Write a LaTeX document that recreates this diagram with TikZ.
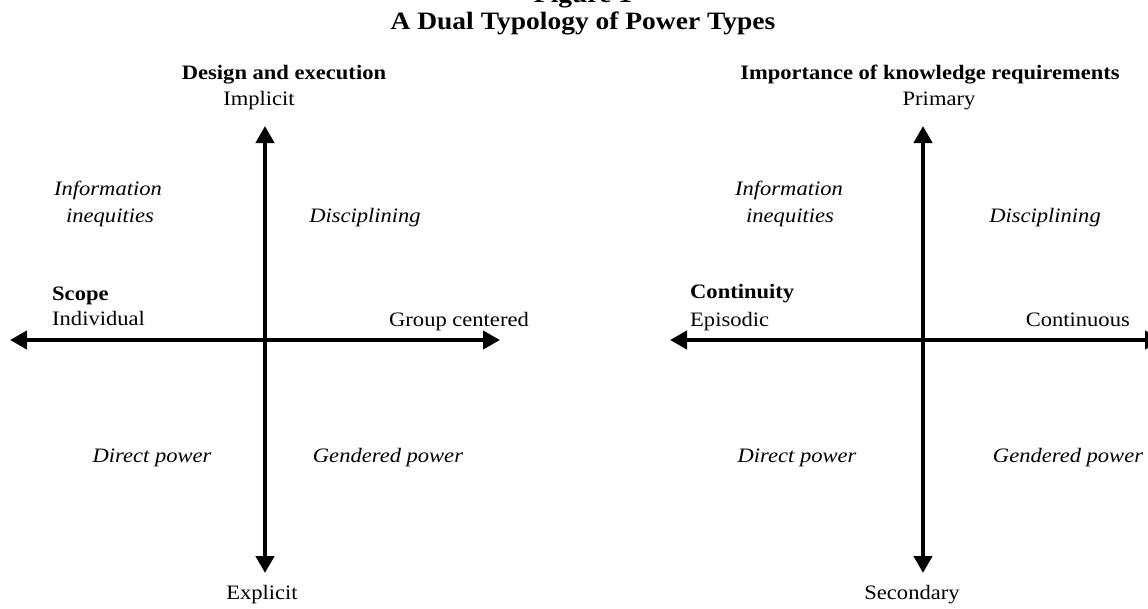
\documentclass[tikz,border=0pt]{standalone}
\usepackage{fontspec}
\setmainfont{Liberation Serif}[FakeStretch=1.1]
\usetikzlibrary{arrows.meta}
\begin{document}
\begin{tikzpicture}[x=1pt,y=-1pt,
  tip/.tip={Triangle[length=17pt,width=18pt]},
  axis/.style={line width=4.5pt,tip-tip},
  lab/.style={inner sep=0pt,anchor=base,font=\fontsize{20.5}{24}\selectfont},
  bold/.style={lab,font=\fontsize{20.5}{24}\selectfont\bfseries},
  quad/.style={lab,font=\fontsize{20.5}{24}\selectfont\itshape},
  ttl/.style={inner sep=0pt,anchor=base,font=\fontsize{25}{28}\selectfont\bfseries}]
\useasboundingbox (0,0) rectangle (1148,608);
\node[ttl] (fig) at (583,2) {Figure 1};
\node[ttl] (title) at (583,29) {A Dual Typology of Power Types};
% left diagram
\coordinate (lt) at (265,126);
\coordinate (lb) at (265,573);
\coordinate (ll) at (10,340);
\coordinate (lr) at (500,340);
\draw[axis] (lb) -- (lt);
\draw[axis] (ll) -- (lr);
\node[bold] (dae) at (284,79) {Design and execution};
\node[lab] (impl) at (259,105) {Implicit};
\node[quad] (ii1a) at (108,195) {Information};
\node[quad] (ii1b) at (110,222) {inequities};
\node[quad] (disc1) at (365,222) {Disciplining};
\node[bold,anchor=base west] (scope) at (52,300) {Scope};
\node[lab,anchor=base west] (ind) at (52,325) {Individual};
\node[lab,anchor=base east] (grp) at (529,326) {Group centered};
\node[quad] (dp1) at (152,462) {Direct power};
\node[quad] (gp1) at (388,462) {Gendered power};
\node[lab] (expl) at (262,599) {Explicit};
% right diagram
\coordinate (rt) at (923,126);
\coordinate (rb) at (923,573);
\coordinate (rl) at (670,340);
\coordinate (rr) at (1162,340);
\draw[axis] (rb) -- (rt);
\draw[axis] (rl) -- (rr);
\node[bold] (ikr) at (930,79) {Importance of knowledge requirements};
\node[lab] (prim) at (939,105) {Primary};
\node[quad] (ii2a) at (789,195) {Information};
\node[quad] (ii2b) at (790,222) {inequities};
\node[quad] (disc2) at (1045,222) {Disciplining};
\node[bold,anchor=base west] (cont) at (690,298) {Continuity};
\node[lab,anchor=base west] (epi) at (690,326) {Episodic};
\node[lab,anchor=base east] (cnts) at (1130,326) {Continuous};
\node[quad] (dp2) at (797,462) {Direct power};
\node[quad] (gp2) at (1068,462) {Gendered power};
\node[lab] (sec) at (912,599) {Secondary};
\end{tikzpicture}
\end{document}
